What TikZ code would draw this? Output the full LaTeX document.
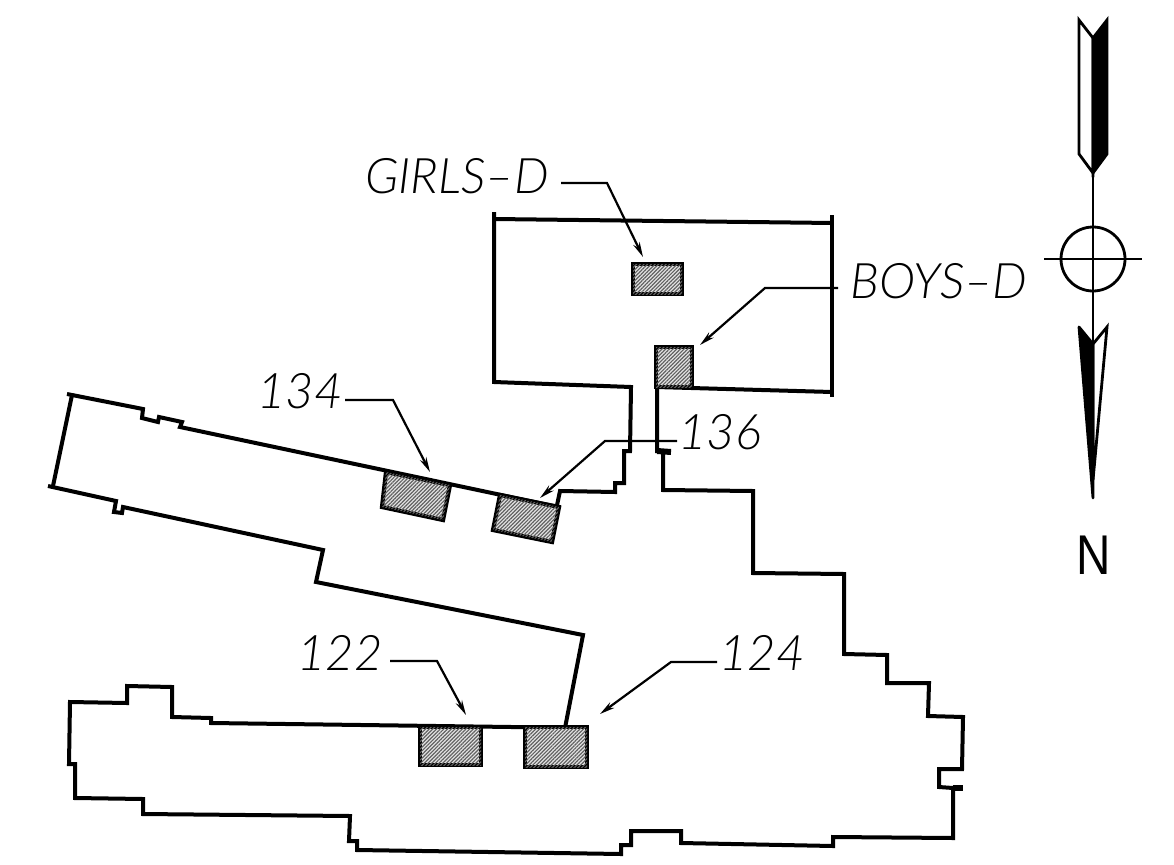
\documentclass[tikz,border=0pt]{standalone}
\usepackage{fontspec}
\setmainfont{Liberation Sans}
\newfontfamily\planfont{Lato Light}[ItalicFont={Lato Light Italic}]
\usetikzlibrary{arrows.meta,patterns.meta}
\tikzset{
  wall/.style={draw=black,line width=4pt,line join=miter},
  stub/.style={draw=black,line width=6pt},
  room/.style={draw=black,line width=4.2pt,fill=black!10,
    postaction={pattern={Lines[angle=45,distance=2.6pt,line width=1.2pt]},pattern color=black!62}},
  leader/.style={draw=black,line width=2.2pt,-{Stealth[length=15pt,width=7pt]}},
  planlabel/.style={inner sep=0pt,font=\planfont\itshape\fontsize{49}{49}\selectfont},
  compass/.style={draw=black,line width=2.8pt}
}
\begin{document}
\begin{tikzpicture}[x=1pt,y=-1pt]
\useasboundingbox (0,0) rectangle (1174,864);
% girls block
\draw [wall] (494,212) -- (494,382) -- (631,387) -- (630,451) -- (624,451) -- (624,483) -- (615,483) -- (615,492) -- (560,491) -- (556,510);
\draw [wall] (494,219) -- (833,223);
\draw [wall] (832,215) -- (832,397);
\draw [wall] (656,387) -- (832,392);
% east side and south side
\draw [wall] (657,387) -- (657,451) -- (663,451) -- (663,490) -- (753,491) -- (753,573) -- (844,574) -- (844,654) -- (887,655) -- (887,683) -- (929,683) -- (928,716) -- (963,717) -- (962,769) -- (939,769) -- (939,787) -- (953,788) -- (953,838) -- (833,837) -- (833,846) -- (681,843) -- (681,831) -- (631,831) -- (631,845) -- (621,845) -- (621,854) -- (357,850) -- (357,841) -- (349,841) -- (350,816) -- (143,814) -- (143,799) -- (75,798) -- (75,764) -- (69,764) -- (70,702) -- (127,703) -- (127,686) -- (172,687) -- (172,717) -- (211,718) -- (211,723) -- (587,728);
\draw [stub] (657,451) -- (671,452);
\draw [stub] (953,788) -- (963,788);
% middle wing
\draw [wall] (67,394) -- (143,409) -- (142,418) -- (158,422) -- (159,417) -- (182,422) -- (180,427) -- (558,507);
\draw [wall] (72,395) -- (53,486);
\draw [wall] (48,486) -- (116,501) -- (114,512) -- (122,513) -- (123,507) -- (323,550) -- (316,582) -- (583,635) -- (565,728);
% rooms
\draw [room] (633,264) rectangle (682,294);
\draw [room] (656,347) rectangle (692,387);
\draw [room] (386,472) -- (450,485) -- (443,520) -- (382,507) -- cycle;
\draw [room] (500,495) -- (559,507) -- (552,542) -- (493,530) -- cycle;
\draw [room] (420,727) rectangle (481,765);
\draw [room] (525,727) rectangle (587,767);
% labels
\node [planlabel] (lblgirls) at (457,176) {GIRLS\textendash D};
\node [planlabel] (lblboys) at (939,281) {BOYS\textendash D};
\node [planlabel] (lbl134) at (300,391) {134};
\node [planlabel] (lbl136) at (720,432) {136};
\node [planlabel] (lbl122) at (340,653) {122};
\node [planlabel] (lbl124) at (762,653) {124};
% leaders
\coordinate (tipgirls) at (643,257);
\coordinate (tipboys) at (700,345);
\coordinate (tip134) at (430,472);
\coordinate (tip136) at (540,498);
\coordinate (tip122) at (466,715);
\coordinate (tip124) at (600,714);
\draw [leader] (561,183) -- (607,183) -- (tipgirls);
\draw [leader] (838,288) -- (765,288) -- (tipboys);
\draw [leader] (345,400) -- (393,400) -- (tip134);
\draw [leader] (677,441) -- (605,441) -- (tip136);
\draw [leader] (390,661) -- (437,661) -- (tip122);
\draw [leader] (717,662) -- (671,662) -- (tip124);
% north arrow
\coordinate (ctr) at (1093,259);
\draw [compass,fill=white,line join=miter] (1079,20) -- (1093,38) -- (1093,173) -- (1079,154) -- cycle;
\draw [compass,fill=black,line join=miter] (1107,20) -- (1093,38) -- (1093,173) -- (1107,154) -- cycle;
\draw [compass] (ctr) circle (32);
\draw [compass] (1044,259) -- (1142,259);
\draw [compass] (1093,173) -- (1093,345);
\draw [compass,fill=white,line join=miter] (1107,327) -- (1093,344) -- (1093,480) -- cycle;
\draw [compass,fill=black,line join=round] (1079,327) -- (1093,344) -- (1093,498) -- cycle;
\node [inner sep=0pt,font=\fontsize{56}{56}\selectfont] (north) at (1094,555) {\scalebox{.85}[1]{N}};
\end{tikzpicture}
\end{document}
